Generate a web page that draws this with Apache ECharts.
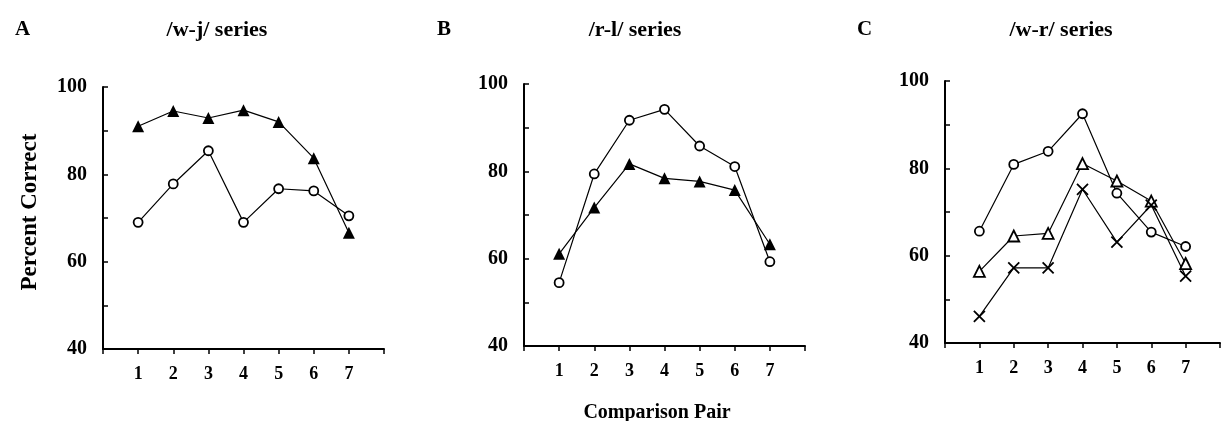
<!DOCTYPE html>
<html><head><meta charset="utf-8">
<script src="https://cdn.jsdelivr.net/npm/echarts@6/dist/echarts.min.js"></script>
<style>html,body{margin:0;padding:0;background:#fff}#c{width:1223px;height:421px}</style>
</head><body><div id="c"></div>
<script>
const pairs = [1, 2, 3, 4, 5, 6, 7];
const yTicks = [40, 60, 80, 100];
const panelLetters = ['A', 'B', 'C'];
const panelTitles = ['/w-j/ series', '/r-l/ series', '/w-r/ series'];
const yName = 'Percent Correct';
const xName = 'Comparison Pair';
// Panel A
const wjTriangle = [91, 94.5, 92.9, 94.7, 92, 83.7, 66.6];
const wjCircle = [69, 77.8, 85.4, 69, 76.7, 76.2, 70.5];
// Panel B
const rlCircle = [54.5, 79.4, 91.7, 94.2, 85.8, 81.1, 59.3];
const rlTriangle = [61.1, 71.7, 81.7, 78.4, 77.7, 75.7, 63.3];
// Panel C
const wrCircle = [65.6, 80.9, 83.9, 92.5, 74.3, 65.4, 62.1];
const wrTriangle = [56.4, 64.5, 65.1, 81.1, 77.1, 72.5, 58.2];
const wrCross = [46.1, 57.2, 57.2, 75.2, 63.1, 71.6, 55.3];

const FONT = '"Liberation Serif", "Times New Roman", serif';
const chart = echarts.init(document.getElementById('c'), null, {renderer: 'canvas'});

const grids = [
  {left: 103, top: 87, width: 281, height: 262},
  {left: 524, top: 84, width: 281, height: 262},
  {left: 945, top: 81, width: 281, height: 262}
];

function pts(arr) { return arr.map((v, i) => [pairs[i], v]); }

const xAxes = grids.map((g, i) => ({
  type: 'value', gridIndex: i, min: 0, max: 8, interval: 1,
  axisLine: {show: true, onZero: false, lineStyle: {color: '#000', width: 2}},
  axisTick: {show: true, inside: false, length: 5, lineStyle: {color: '#000', width: 1.5}},
  splitLine: {show: false},
  axisLabel: {
    margin: 16, color: '#000', fontFamily: FONT, fontWeight: 'bold', fontSize: 18,
    formatter: v => (pairs.indexOf(v) >= 0 ? String(v) : '')
  }
}));

const yAxes = grids.map((g, i) => ({
  type: 'value', gridIndex: i, min: yTicks[0], max: yTicks[yTicks.length - 1], interval: 20,
  axisLine: {show: true, lineStyle: {color: '#000', width: 2}},
  axisTick: {show: true, inside: true, length: 5, lineStyle: {color: '#000', width: 1.5}},
  minorTick: {show: true, splitNumber: 2, length: 5, lineStyle: {color: '#000', width: 1.5}},
  splitLine: {show: false},
  axisLabel: {margin: 16, color: '#000', fontFamily: FONT, fontWeight: 'bold', fontSize: 20}
}));

function line(data, gi, sym, filled, size) {
  return {
    type: 'line', xAxisIndex: gi, yAxisIndex: gi, data: pts(data),
    symbol: sym, symbolSize: size, showSymbol: true,
    lineStyle: {color: '#000', width: 1.2},
    itemStyle: {color: filled ? '#000' : '#fff', borderColor: '#000', borderWidth: filled ? 0 : 1.8},
    animation: false, z: 3
  };
}
const CROSS = 'path://M0,0L10,10M10,0L0,10';
const crossSeries = {
  type: 'line', xAxisIndex: 2, yAxisIndex: 2, data: pts(wrCross),
  symbol: CROSS, symbolSize: 11, showSymbol: true,
  lineStyle: {color: '#000', width: 1.2},
  itemStyle: {color: 'none', borderColor: '#000', borderWidth: 1.8},
  animation: false, z: 3
};

const titleX = [[10, 212], [432, 630], [852, 1056]];
const titles = [];
panelLetters.forEach((l, i) => {
  titles.push({text: l, left: titleX[i][0], top: 14,
    textStyle: {color: '#000', fontFamily: FONT, fontWeight: 'bold', fontSize: 21}});
  titles.push({text: panelTitles[i], left: titleX[i][1], top: 14, textAlign: 'center',
    textStyle: {color: '#000', fontFamily: FONT, fontWeight: 'bold', fontSize: 22}});
});
titles.push({text: xName, left: 652, top: 398, textAlign: 'center',
  textStyle: {color: '#000', fontFamily: FONT, fontWeight: 'bold', fontSize: 20}});

chart.setOption({
  backgroundColor: '#fff',
  animation: false,
  title: titles,
  grid: grids,
  xAxis: xAxes,
  yAxis: yAxes,
  graphic: [{
    type: 'text', x: 30, y: 212, rotation: Math.PI / 2,
    style: {text: yName, fill: '#000', font: 'bold 23px ' + FONT, textAlign: 'center', textVerticalAlign: 'middle'}
  }],
  series: [
    line(wjTriangle, 0, 'triangle', true, 12),
    line(wjCircle, 0, 'circle', false, 9),
    line(rlCircle, 1, 'circle', false, 9),
    line(rlTriangle, 1, 'triangle', true, 12),
    line(wrCircle, 2, 'circle', false, 9),
    line(wrTriangle, 2, 'triangle', false, 11),
    crossSeries
  ]
});
</script></body></html>
